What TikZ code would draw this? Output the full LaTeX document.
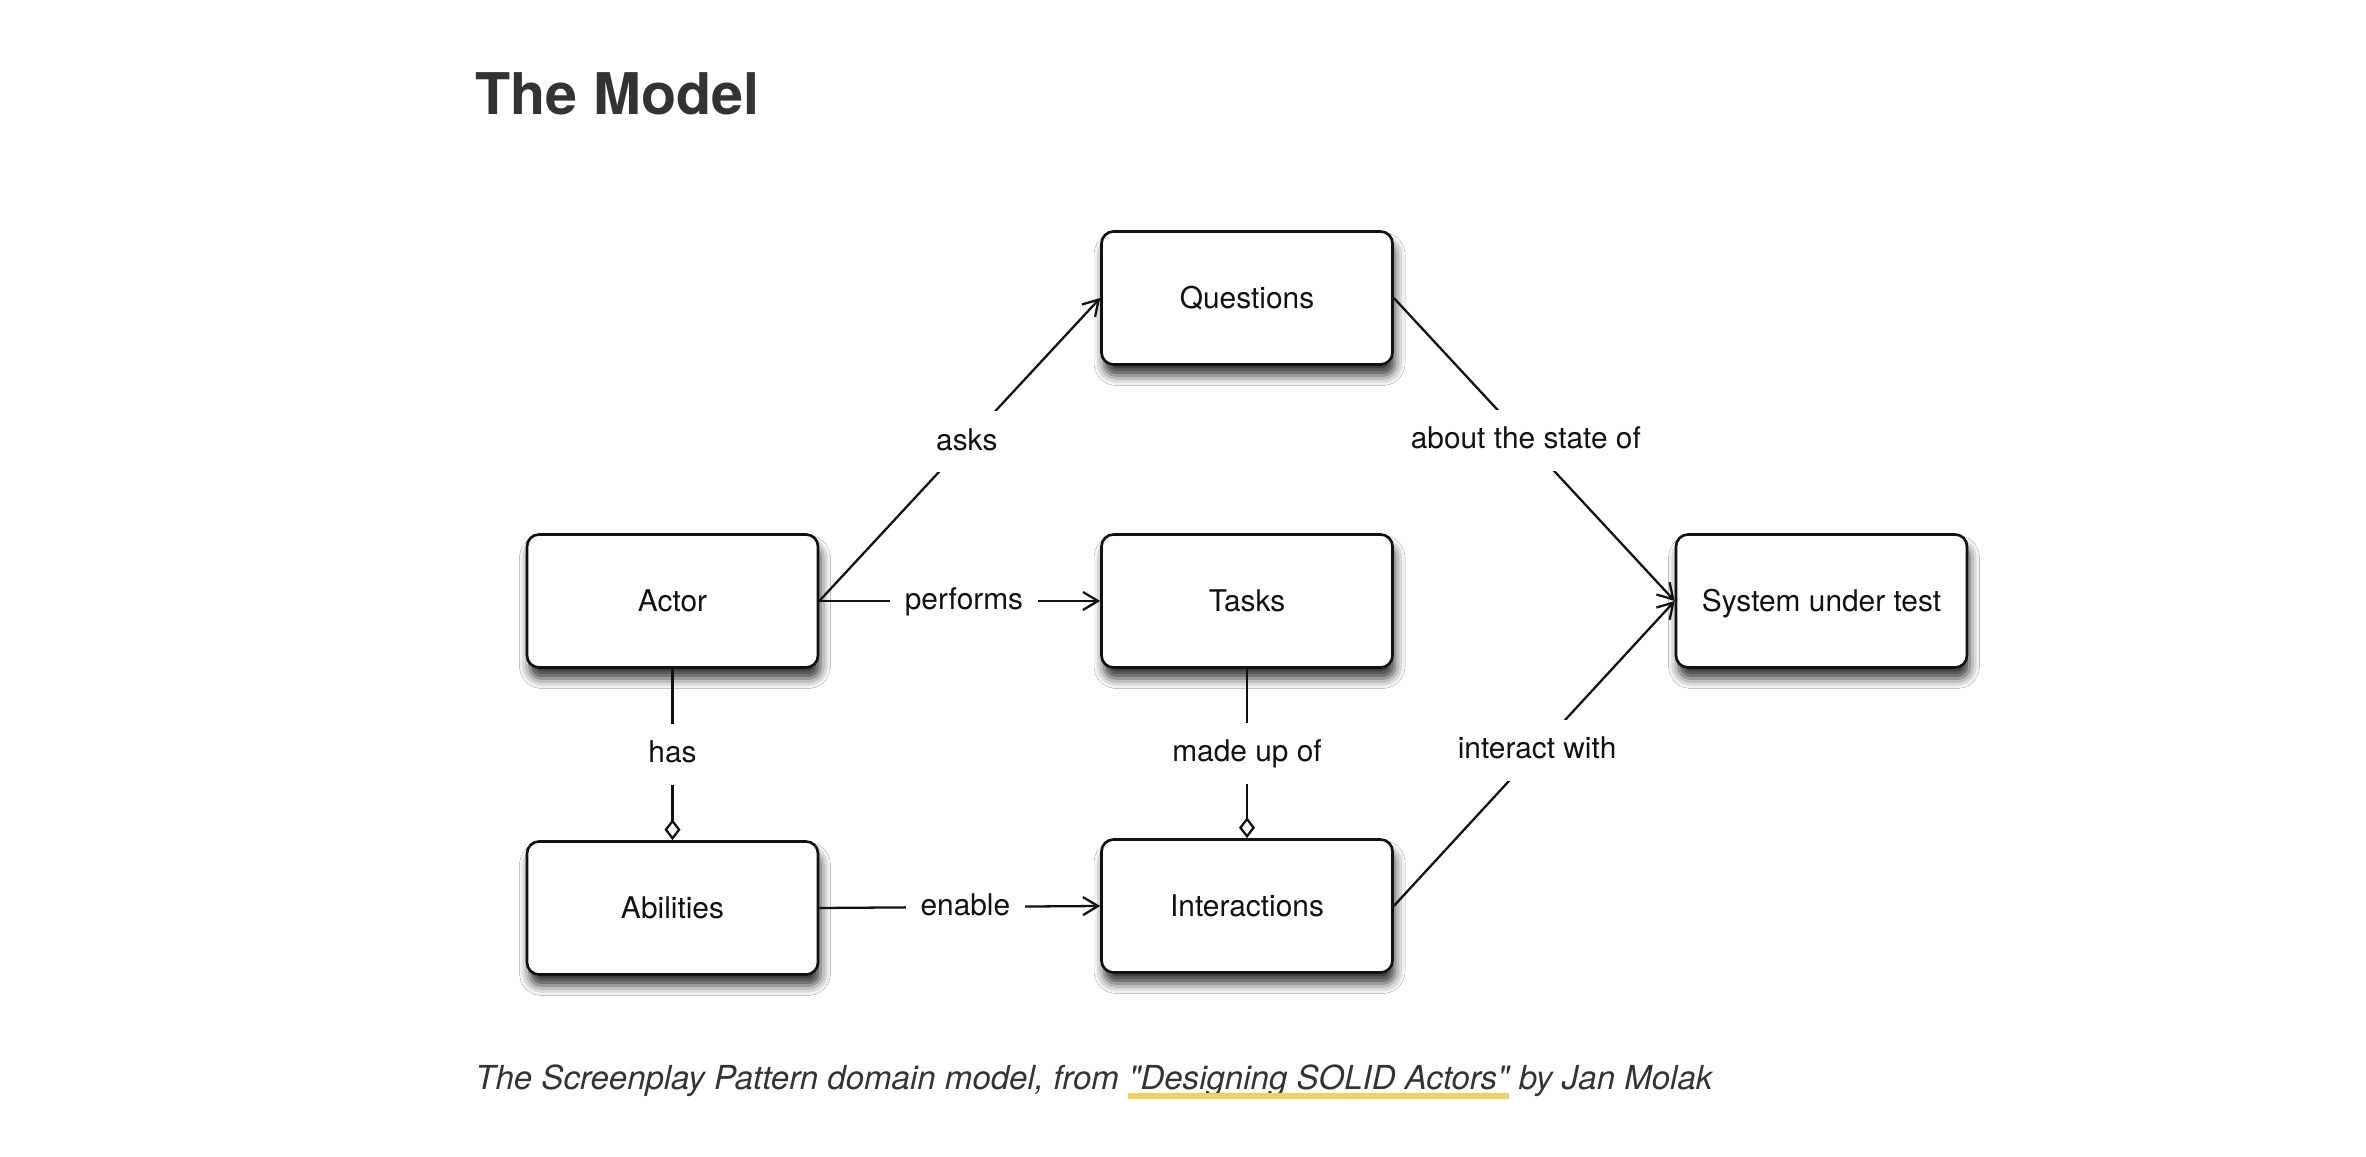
\documentclass[tikz,border=0pt]{standalone}
\usepackage{fontspec}
\setmainfont{TeX Gyre Heros}
\newfontfamily\capfont{TeX Gyre Heros}
\usetikzlibrary{arrows.meta, shadows.blur}
\definecolor{ink}{HTML}{111111}
\definecolor{headgray}{HTML}{333333}
\definecolor{linkyellow}{HTML}{F5CF57}
\tikzset{
	entity/.style={draw=ink, line width=1.5pt, rounded corners=0.24cm, fill=white,
		minimum width=5.82cm, minimum height=2.66cm, text=ink, font=\fontsize{17}{20}\selectfont,
		text height=0.43cm, text depth=0cm,
		blur shadow={shadow xshift=0.05cm, shadow yshift=-0.22cm, shadow blur radius=0.2cm, shadow opacity=80}},
	rel/.style={draw=ink, line width=1.3pt},
	navarrow/.style={rel, -{Straight Barb[length=0.3cm, width=0.36cm]}},
	aggr/.style={rel, -{Diamond[open, length=0.42cm, width=0.32cm]}},
	lbl/.style={fill=white, text=ink, font=\fontsize{17}{20}\selectfont,
		inner xsep=0.3cm, inner ysep=0.34cm, text height=0.44cm, text depth=0.1cm}
}
\begin{document}
\begin{tikzpicture}
		\fill[white](0, 0)rectangle(47.32, 23.12);
		\useasboundingbox(0, 0)rectangle(47.32, 23.12);
		% heading
		\node[anchor=base west, inner sep=0, text=headgray, font=\fontsize{32.7}{36}\selectfont\bfseries](title)at(9.5, 20.82){The Model};
		% boxes
		\node[entity](actor)at(13.45, 11.1){Actor};
		\node[entity](abilities)at(13.45, 4.96){Abilities};
		\node[entity](questions)at(24.94, 17.16){Questions};
		\node[entity](tasks)at(24.94, 11.1){Tasks};
		\node[entity](interactions)at(24.94, 5.0){Interactions};
		\node[entity](sut)at(36.43, 11.1){System under test};
		% relations
		\draw[navarrow](actor.east)--node[lbl, pos=.525]{asks}(questions.west);
		\draw[navarrow](actor.east)--node[lbl, pos=.515]{performs}(tasks.west);
		\draw[navarrow](questions.east)--node[lbl, pos=.47]{about the state of}(sut.west);
		\draw[navarrow](interactions.east)--node[lbl, pos=.51]{interact with}(sut.west);
		\draw[navarrow](abilities.east)--node[lbl, pos=.52]{enable}(interactions.west);
		\draw[aggr](actor.south)--node[lbl]{has}(abilities.north);
		\draw[aggr](tasks.south)--node[lbl]{made up of}(interactions.north);
		% caption
		\begin{scope}[every node/.style={anchor=base west, inner sep=0, text=headgray, font=\fontsize{18.8}{22}\capfont\itshape}]
			\node(capa)at(9.5, 1.34){The Screenplay Pattern domain model, from\ \null};
			\node(capb)at(capa.base east){"Designing SOLID Actors"};
			\fill[linkyellow]([yshift=-0.08cm]capb.base west)rectangle([yshift=-0.2cm]capb.base east);
			\node(capc)at(capb.base east){\ by Jan Molak};
		\end{scope}
	\end{tikzpicture}
\end{document}
